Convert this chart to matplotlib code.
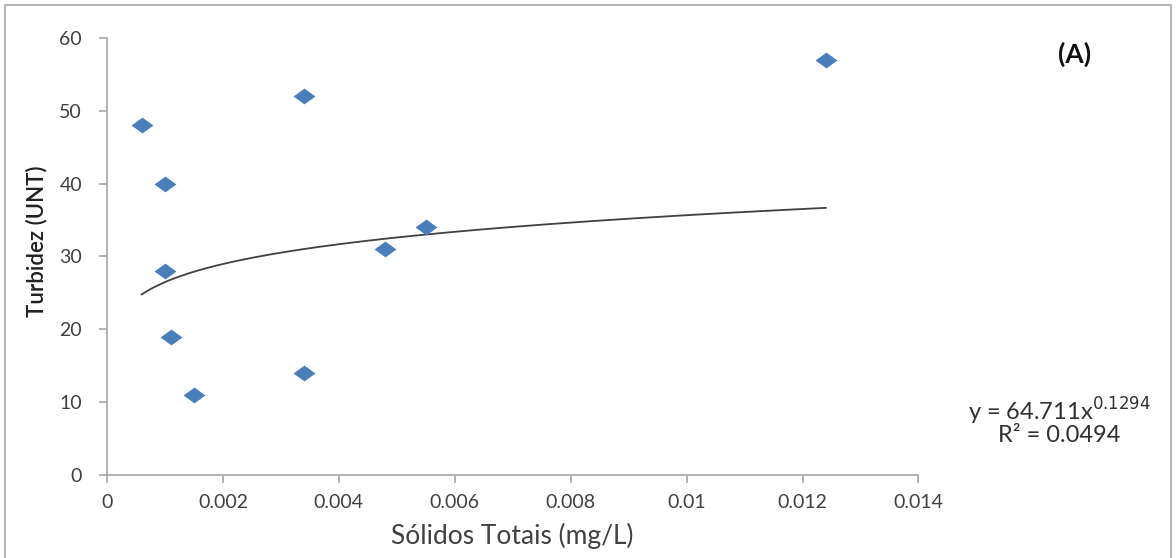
import matplotlib.pyplot as plt
import numpy as np
from matplotlib.patches import Rectangle

# data
solidos = [0.0006, 0.0010, 0.0010, 0.0011, 0.0015, 0.0034, 0.0034, 0.0048, 0.0055, 0.0124]
turbidez = [48, 40, 28, 19, 11, 52, 14, 31, 34, 57]
coef_a = 64.711
coef_b = 0.1294
x_ticks = [0, 0.002, 0.004, 0.006, 0.008, 0.01, 0.012, 0.014]
x_tick_labels = ['0', '0.002', '0.004', '0.006', '0.008', '0.01', '0.012', '0.014']
y_ticks = [0, 10, 20, 30, 40, 50, 60]

plt.rcParams['font.family'] = ['Lato', 'DejaVu Sans']

fig = plt.figure(figsize=(11.76, 5.58), dpi=100)
ax = fig.add_axes([0.091, 0.149, 0.690, 0.783])

# frame round the whole figure
fig.patches.append(Rectangle((0.004, -0.01), 0.992, 1.001, transform=fig.transFigure,
                             fill=False, edgecolor='#a6a6a6', linewidth=1.2))

diamond = [(-1, 0), (0, 0.72), (1, 0), (0, -0.72), (-1, 0)]
ax.scatter(solidos, turbidez, marker=diamond, s=250, color='#4a7ebb', zorder=3, linewidths=0)

xs = np.linspace(min(solidos), max(solidos), 300)
ax.plot(xs, coef_a * xs ** coef_b, color='#404040', linewidth=1.3)

ax.set_xlim(0, 0.014)
ax.set_ylim(0, 60)
ax.set_xticks(x_ticks)
ax.set_xticklabels(x_tick_labels)
ax.set_yticks(y_ticks)

for s in ['top', 'right']:
    ax.spines[s].set_visible(False)
for s in ['left', 'bottom']:
    ax.spines[s].set_color('#a6a6a6')
    ax.spines[s].set_linewidth(1.2)
ax.tick_params(direction='out', length=6, width=1.2, color='#a6a6a6',
               labelsize=14, labelcolor='#404040', pad=8)
ax.tick_params(axis='y', pad=12)

ax.set_xlabel('Sólidos Totais (mg/L)', fontsize=19, color='#404040', labelpad=8)
ax.set_ylabel('Turbidez (UNT)', fontsize=16, color='#202020', fontweight='semibold')
ax.yaxis.set_label_coords(-0.074, 0.535)

fig.text(0.901, 0.262, 'y = 64.711x$^{0.1294}$', fontsize=17, color='#303030', ha='center', va='center')
fig.text(0.901, 0.219, 'R² = 0.0494', fontsize=17, color='#303030', ha='center', va='center')
fig.text(0.914, 0.902, '(A)', fontsize=19, fontweight='bold', color='#101010', ha='center', va='center')

fig.savefig('out.png', dpi=100)
